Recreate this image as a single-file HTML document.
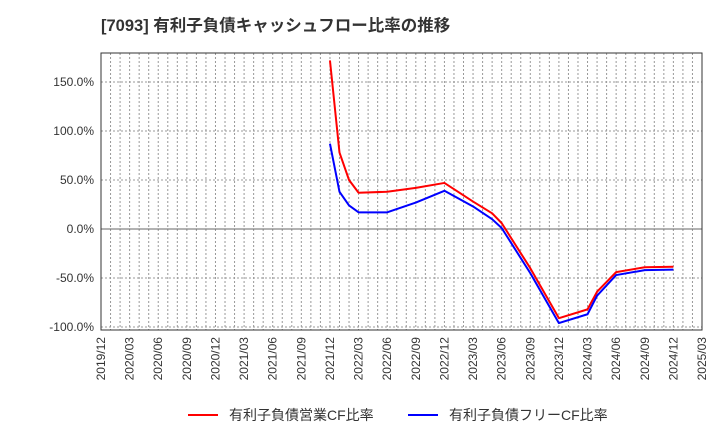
<!DOCTYPE html>
<html><head><meta charset="utf-8"><style>
body{margin:0;background:#fff;font-family:"Liberation Sans","Noto Sans CJK JP",sans-serif;}
svg text{font-family:"Liberation Sans","Noto Sans CJK JP",sans-serif;}
</style></head><body>
<svg id="c" width="720" height="440" xmlns="http://www.w3.org/2000/svg">
<text x="101" y="31" font-size="16.5" font-weight="bold" fill="#333">[7093]  有利子負債キャッシュフロー比率の推移</text>
<g id="grid"></g><g id="axes"></g><g id="series"></g>
<g>
<line x1="188" y1="415" x2="218" y2="415" stroke="#f00" stroke-width="2"/>
<text x="229" y="420" font-size="14" fill="#333">有利子負債営業CF比率</text>
<line x1="408" y1="415" x2="438" y2="415" stroke="#00f" stroke-width="2"/>
<text x="449" y="420" font-size="14" fill="#333">有利子負債フリーCF比率</text>
</g>
</svg>
<script>
const xTickLabels=["2019/12","2020/03","2020/06","2020/09","2020/12","2021/03","2021/06","2021/09","2021/12","2022/03","2022/06","2022/09","2022/12","2023/03","2023/06","2023/09","2023/12","2024/03","2024/06","2024/09","2024/12","2025/03"];
const yTicks=[150,100,50,0,-50,-100];
// month index from 2019/12
const months=[24,25,26,27,30,33,36,39,41,42,45,48,51,52,54,57,60];
const operatingCF=[172,78,50,37,38,42,47,28,16,6,-40,-91,-82,-64,-44,-39,-38.5];
const freeCF=[87,38,24,17,17,27,39,23,10,1,-45,-96,-87,-68,-47,-42,-41.5];
const L=101,R=702,T=53,B=330;
const x=m=>L+(R-L)*m/63;
const y=v=>229-v*0.98;
const ns="http://www.w3.org/2000/svg";
function mk(t,a,p){const e=document.createElementNS(ns,t);for(const k in a)e.setAttribute(k,a[k]);p.appendChild(e);return e;}
const g=document.getElementById('grid'),ax=document.getElementById('axes'),s=document.getElementById('series');
for(let m=1;m<63;m++){const l=mk('line',{x1:x(m),x2:x(m),y1:T,y2:B,stroke:'#999','stroke-dasharray':'2,2','stroke-width':1},g);

}
yTicks.forEach(v=>{const l=mk('line',{x1:L,x2:R,y1:y(v),y2:y(v),stroke:v===0?'#666':'#999','stroke-dasharray':v===0?'':'2,2','stroke-width':1},g);


const t=mk('text',{x:L-7,y:y(v)+4,'text-anchor':'end','font-size':12,fill:'#333'},ax);t.textContent=v.toFixed(1)+'%';

});
const fr=mk('rect',{x:L,y:T,width:R-L,height:B-T,fill:'none',stroke:'#333','stroke-width':1},ax);


xTickLabels.forEach((lb,i)=>{const px=x(i*3),t=mk('text',{x:0,y:0,'text-anchor':'end','font-size':12,fill:'#333',transform:`translate(${px+4},${B+7}) rotate(-90)`},ax);t.textContent=lb;

});
function line(vals,c,n){const p=mk('polyline',{points:vals.map((v,i)=>x(months[i])+','+y(v)).join(' '),fill:'none',stroke:c,'stroke-width':2,'stroke-linejoin':'round'},s);

}
line(operatingCF,'#f00','operating-cf-line');
line(freeCF,'#00f','free-cf-line');
</script>
</body></html>
